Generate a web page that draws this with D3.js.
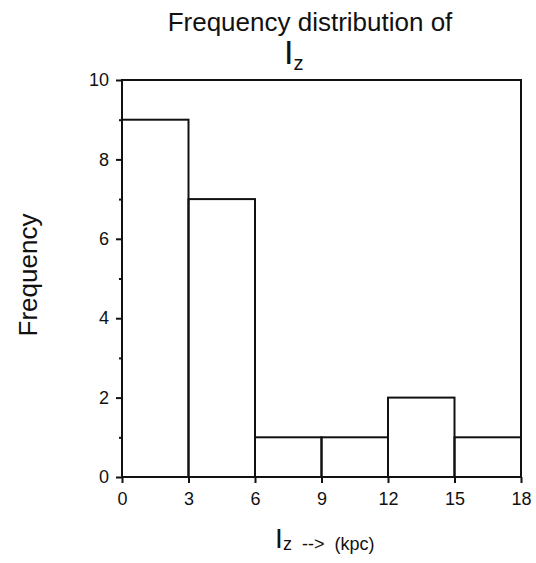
<!DOCTYPE html>
<html>
<head>
<meta charset="utf-8">
<script src="https://cdn.jsdelivr.net/npm/d3@7"></script>
<style>
  html, body { margin: 0; padding: 0; background: #fff; }
  svg { display: block; font-family: "Liberation Sans", Arial, Helvetica, sans-serif; }
</style>
</head>
<body>
<svg id="chart" width="536" height="563"></svg>
<script>
// Histogram bins (kpc) and their counts
const binEdges = [0, 3, 6, 9, 12, 15, 18];
const counts = [9, 7, 1, 1, 2, 1];
const xTicks = [0, 3, 6, 9, 12, 15, 18];
const yTicks = [0, 2, 4, 6, 8, 10];
const yMinorTicks = [1, 3, 5, 7, 9];

const svg = d3.select("#chart");
const margin = { left: 122, right: 15, top: 80, bottom: 86 };
const W = 536, H = 563;

const x = d3.scaleLinear().domain([0, 18]).range([margin.left, W - margin.right]);
const y = d3.scaleLinear().domain([0, 10]).range([H - margin.bottom, margin.top]);

const ink = "#111";

// Bars
const bins = counts.map((c, i) => ({ x0: binEdges[i], x1: binEdges[i + 1], n: c }));
svg.append("g")
  .selectAll("rect")
  .data(bins)
  .join("rect")
  .attr("x", d => x(d.x0))
  .attr("y", d => y(d.n))
  .attr("width", d => x(d.x1) - x(d.x0))
  .attr("height", d => y(0) - y(d.n))
  .attr("fill", "none")
  .attr("stroke", ink)
  .attr("stroke-width", 2);

// Frame
svg.append("rect")
  .attr("x", x(0)).attr("y", y(10))
  .attr("width", x(18) - x(0)).attr("height", y(0) - y(10))
  .attr("fill", "none").attr("stroke", ink).attr("stroke-width", 2);

// Axes
const xAxis = d3.axisBottom(x).tickValues(xTicks).tickSize(6).tickPadding(9).tickFormat(d3.format("d"));
const gx = svg.append("g").attr("transform", `translate(0,${y(0)})`).call(xAxis);
gx.select(".domain").remove();
gx.selectAll("line").attr("stroke", ink).attr("stroke-width", 2);
gx.selectAll("text").attr("fill", ink).attr("font-size", 18);

const yAxis = d3.axisLeft(y).tickValues(yTicks).tickSize(6).tickPadding(7).tickFormat(d3.format("d"));
const gy = svg.append("g").attr("transform", `translate(${x(0)},0)`).call(yAxis);
gy.select(".domain").remove();
gy.selectAll("line").attr("stroke", ink).attr("stroke-width", 2);
gy.selectAll("text").attr("fill", ink).attr("font-size", 18);

const gyMinor = svg.append("g").attr("transform", `translate(${x(0)},0)`)
  .call(d3.axisLeft(y).tickValues(yMinorTicks).tickSize(3).tickFormat(""));
gyMinor.select(".domain").remove();
gyMinor.selectAll("line").attr("stroke", ink).attr("stroke-width", 2);

// Title
svg.append("text")
  .attr("x", 310).attr("y", 31)
  .attr("text-anchor", "middle")
  .attr("font-size", 26).attr("fill", ink)
  .text("Frequency distribution of");

const t2 = svg.append("text")
  .attr("x", 284).attr("y", 64)
  .attr("fill", ink);
t2.append("tspan").attr("font-size", 34).text("I");
t2.append("tspan").attr("font-size", 20).attr("dy", 6).text("z");

// Y label
svg.append("text")
  .attr("transform", `translate(37,${275}) rotate(-90)`)
  .attr("text-anchor", "middle")
  .attr("font-size", 26).attr("fill", ink)
  .text("Frequency");

// X label
const xl = svg.append("text")
  .attr("x", 275).attr("y", 548)
  .attr("fill", ink);
xl.append("tspan").attr("font-size", 28).text("I");
xl.append("tspan").attr("font-size", 18).attr("x", 283).attr("dy", 2)
  .attr("word-spacing", 5).text("z --> (kpc)");
</script>
</body>
</html>
